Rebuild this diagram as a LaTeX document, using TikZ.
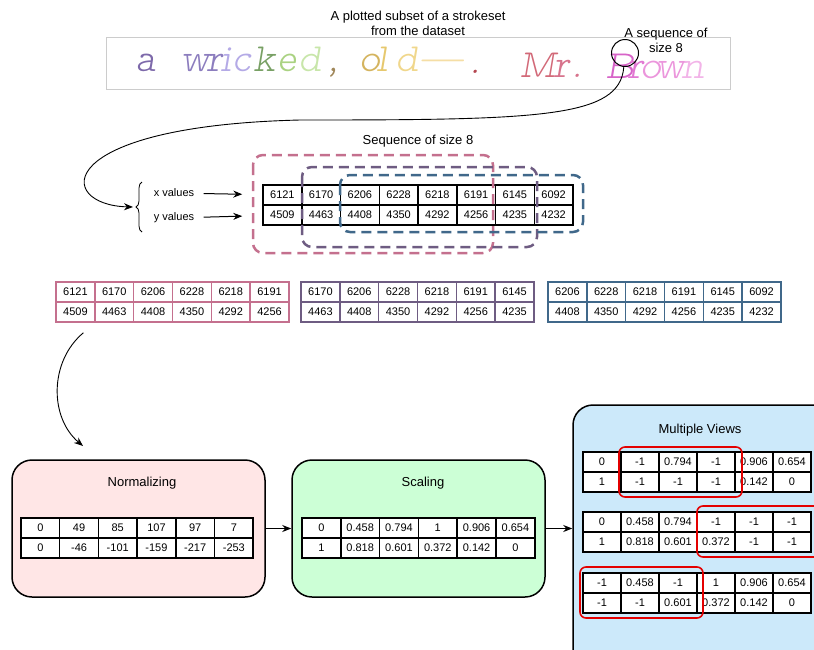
\documentclass[tikz,border=0pt]{standalone}
\usepackage{fontspec}
\setsansfont{Liberation Sans}
\newfontfamily\handfont{lmmonoproplt10-oblique}[Extension=.otf]
\usepackage{xcolor}
\usepackage{tikz}
\usetikzlibrary{arrows.meta,decorations.pathreplacing}

\definecolor{pinkseq}{RGB}{196,112,142}
\definecolor{purpseq}{RGB}{110,92,130}
\definecolor{blueseq}{RGB}{64,104,138}
\definecolor{normfill}{RGB}{255,230,230}
\definecolor{scalefill}{RGB}{204,255,214}
\definecolor{viewfill}{RGB}{204,233,250}
\definecolor{markred}{RGB}{228,0,0}
\definecolor{hwA}{RGB}{125,105,170}
\definecolor{hwB}{RGB}{140,125,190}
\definecolor{hwC}{RGB}{180,170,230}
\definecolor{hwD}{RGB}{120,160,100}
\definecolor{hwE}{RGB}{170,210,130}
\definecolor{hwF}{RGB}{200,230,170}
\definecolor{hwG}{RGB}{160,135,90}
\definecolor{hwH}{RGB}{212,180,95}
\definecolor{hwI}{RGB}{230,200,110}
\definecolor{hwJ}{RGB}{240,215,140}
\definecolor{hwK}{RGB}{245,222,165}
\definecolor{hwL}{RGB}{180,70,80}
\definecolor{hwM}{RGB}{210,105,120}
\definecolor{hwN}{RGB}{215,115,140}
\definecolor{hwO}{RGB}{215,100,200}
\definecolor{hwP}{RGB}{225,120,210}
\definecolor{hwQ}{RGB}{235,150,220}
\definecolor{hwR}{RGB}{242,180,232}

\tikzset{
    every node/.style={font=\sffamily\fontsize{13}{15}\selectfont},
    cell/.style={draw, line width=1.5pt, fill=white, minimum height=20pt, inner sep=0pt,
        font=\sffamily\fontsize{11}{13}\selectfont},
    procbox/.style={draw, line width=1.5pt, rounded corners=20pt},
    dashbox/.style={line width=2.5pt, dash pattern=on 10pt off 6pt, rounded corners=10pt},
    markbox/.style={draw=markred, line width=1.6pt, rounded corners=6pt},
    arr/.style={-{Stealth[length=9pt,width=7pt]}, line width=1pt},
    curvearr/.style={-{Stealth[length=9pt,width=7pt]}, line width=0.9pt},
    hand/.style={font=\handfont\fontsize{40}{40}\selectfont, anchor=base, inner sep=0pt,
        text height=18pt, text depth=4pt}
}

% two-row table: name, left x, top y, column width, cell options, x/y pairs
\newcommand{\valtable}[6]{%
    \foreach \xv/\yv [count=\i] in {#6} {
        \pgfmathsetmacro{\cx}{#2+(\i-0.5)*#4}
        \node[cell, #5, minimum width=#4pt] (#1-1-\i) at (\cx,#3+10) {\xv};
        \node[cell, #5, minimum width=#4pt] (#1-2-\i) at (\cx,#3+30) {\yv};
    }}

\begin{document}
\begin{tikzpicture}[x=1pt,y=-1pt]
    \clip (0,0) rectangle (814,649);

    % plotted strokeset
    \node[align=center] (plottitle) at (418,23) {A plotted subset of a strokeset\\from the dataset};
    \draw[black!20, line width=0.8pt] (106,37) rectangle (730,89);
    \foreach \ch/\cx/\cy/\col in {a/146/71/hwA, w/196/71/hwB, r/215/71/hwB, i/226/71/hwC,
        c/242/71/hwC, k/265/71/hwD, e/287/71/hwE, d/310/71/hwF, {,}/333/71/hwG,
        o/370/71/hwH, l/382/71/hwI, d/407/71/hwJ, —/441/71/hwK, ./475/73/hwL,
        M/538/77/hwM, r/562/77/hwN, ./577/77/hwN, B/620/78/hwO, r/636/78/hwP,
        o/651/78/hwQ, w/671/78/hwQ, n/693/78/hwR}
        \node[hand, text=\col] at (\cx,\cy) {\ch};

    \node[draw, circle, line width=1pt, minimum size=27pt, inner sep=0pt] (seqring) at (625,53) {};
    \node[align=center] (seqlabel) at (666,40) {A sequence of\\size 8};

    % sequence of size 8
    \node (seqtitle) at (418,141) {Sequence of size 8};
    \node[font=\sffamily\fontsize{11}{13}\selectfont] (xlab) at (174,193) {x values};
    \node[font=\sffamily\fontsize{11}{13}\selectfont] (ylab) at (174,218) {y values};
    \draw[decorate, decoration={brace, amplitude=6pt}, line width=0.8pt] (142,232) -- (142,182);
    \coordinate (bracetip) at (133,207);

    \valtable{main}{263}{185}{38.75}{}{6121/4509, 6170/4463, 6206/4408, 6228/4350,
        6218/4292, 6191/4256, 6145/4235, 6092/4232}

    \draw[dashbox, draw=pinkseq] (253,155) rectangle (493,253);
    \draw[dashbox, draw=purpseq] (302,167) rectangle (537,247);
    \draw[dashbox, draw=blueseq] (340,175) rectangle (583,232);

    \draw[arr, shorten <=6pt, shorten >=20pt] (xlab) -- (main-1-1);
    \draw[arr, shorten <=6pt, shorten >=20pt] (ylab) -- (main-2-1);
    \draw[curvearr] (seqring.265) .. controls (620,118) and (540,120) .. (300,120)
        .. controls (50,126) and (55,205) .. (bracetip);

    % the three windows
    \valtable{winA}{56}{282}{38.83}{draw=pinkseq}{6121/4509, 6170/4463, 6206/4408,
        6228/4350, 6218/4292, 6191/4256}
    \valtable{winB}{301}{282}{38.83}{draw=purpseq}{6170/4463, 6206/4408, 6228/4350,
        6218/4292, 6191/4256, 6145/4235}
    \valtable{winC}{548}{282}{38.83}{draw=blueseq}{6206/4408, 6228/4350, 6218/4292,
        6191/4256, 6145/4235, 6092/4232}

    % processing steps
    \node[procbox, fill=normfill, minimum width=253pt, minimum height=137pt] (norm) at (138.5,528.5) {};
    \node[procbox, fill=scalefill, minimum width=253pt, minimum height=137pt] (scale) at (418.5,528.5) {};
    \node[procbox, fill=viewfill, minimum width=280pt, minimum height=290pt] (views) at (713,550) {};
    \node (normtitle) at (142,483) {Normalizing};
    \node (scaletitle) at (423,483) {Scaling};
    \node (viewtitle) at (700,430) {Multiple Views};

    \coordinate (normin) at (83,446);
    \draw[curvearr] ([xshift=8pt,yshift=-10pt]winA-2-1.south) to[bend right=50] (normin);
    \draw[arr] (norm) -- (scale);
    \draw[arr] (scale.east) -- (scale.east -| views.west);

    \valtable{normtab}{21}{518}{38.7}{}{0/0, 49/-46, 85/-101, 107/-159, 97/-217, 7/-253}
    \valtable{scaletab}{302}{518}{38.8}{}{0/1, 0.458/0.818, 0.794/0.601, 1/0.372,
        0.906/0.142, 0.654/0}

    \valtable{viewA}{583}{452}{38}{}{0/1, -1/-1, 0.794/-1, -1/-1, 0.906/0.142, 0.654/0}
    \valtable{viewB}{583}{512}{38}{}{0/1, 0.458/0.818, 0.794/0.601, -1/0.372, -1/-1, -1/-1}
    \valtable{viewC}{583}{573}{38}{}{-1/-1, 0.458/-1, -1/0.601, 1/0.372, 0.906/0.142, 0.654/0}

    \draw[markbox] (619,447) rectangle (742,497);
    \draw[markbox] (697,506) rectangle (830,557);
    \draw[markbox] (580,567) rectangle (703,618);
\end{tikzpicture}
\end{document}
